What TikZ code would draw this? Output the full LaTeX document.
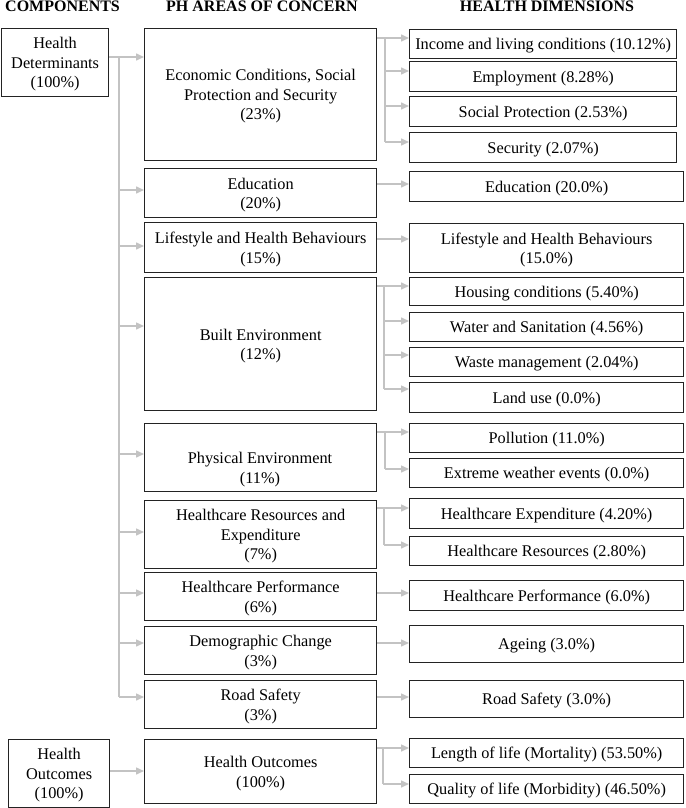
\documentclass[tikz,border=0pt]{standalone}
\usepackage{fontspec}
\setmainfont{Liberation Serif}
\usetikzlibrary{arrows.meta}
\definecolor{cgray}{RGB}{195,195,195}
\definecolor{bdr}{RGB}{35,35,35}
\newcommand\bx[6]{\node[box, minimum width={(#4-#2)*1pt}, minimum height={(#5-#3)*1pt}] (#1) at (#2,#3) {#6};}
\newcommand\harr[3]{\coordinate (tmp) at (0,#3); \draw[arr] (tmp -| #1.east) -- (tmp -| #2.west);}
\begin{document}
\begin{tikzpicture}[x=1pt,y=-1pt,
  box/.style={draw=bdr, line width=1.3pt, align=center, inner sep=1pt, anchor=north west, text depth=0pt, font=\fontsize{16.3}{19.5}\selectfont},
  conn/.style={draw=cgray, line width=1.5pt},
  arr/.style={conn, -{Triangle[length=8pt,width=7pt]}},
  hdr/.style={font=\fontsize{16}{19}\selectfont\bfseries, inner sep=0pt}]
\useasboundingbox (0,0) rectangle (685,808);

% headers
\node[hdr, anchor=west] (h1) at (5,6.5) {COMPONENTS};
\node[hdr] (h2) at (262,6.5) {PH AREAS OF CONCERN};
\node[hdr] (h3) at (547,6.5) {HEALTH DIMENSIONS};

% components
\bx{hd}{1}{28}{108}{96}{Health\\Determinants\\(100\%)}
\bx{ho1}{8}{739}{109}{807}{Health\\Outcomes\\(100\%)}

% PH areas
\bx{econ}{144}{28}{376}{160}{Economic Conditions, Social\\Protection and Security\\(23\%)}
\bx{edu}{144}{168}{376}{217}{Education\\(20\%)}
\bx{life}{144}{222}{376}{272}{Lifestyle and Health Behaviours\\(15\%)}
\bx{built}{144}{277}{376}{410}{Built Environment\\(12\%)}
\bx{phys}{144}{423}{376}{491}{}
\node[align=center, inner sep=0pt, text depth=0pt, font=\fontsize{16.3}{19.5}\selectfont] (physt) at (260,468) {Physical Environment\\(11\%)};
\bx{hcre}{144}{500}{376}{568}{Healthcare Resources and\\Expenditure\\(7\%)}
\bx{perf}{144}{572}{376}{620}{Healthcare Performance\\(6\%)}
\bx{demo}{144}{626}{376}{674}{Demographic Change\\(3\%)}
\bx{road}{144}{680}{376}{728}{Road Safety\\(3\%)}
\bx{ho2}{144}{739}{376}{803}{Health Outcomes\\(100\%)}

% health dimensions
\bx{inc}{409}{29}{676}{58}{Income and living conditions (10.12\%)}
\bx{emp}{409}{61}{676}{91}{Employment (8.28\%)}
\bx{soc}{409}{96}{676}{126}{Social Protection (2.53\%)}
\bx{sec}{409}{132}{676}{162}{Security (2.07\%)}
\bx{edu2}{409}{171}{683}{201}{Education (20.0\%)}
\bx{life2}{409}{223}{683}{272}{Lifestyle and Health Behaviours\\(15.0\%)}
\bx{hous}{409}{277}{683}{305}{Housing conditions (5.40\%)}
\bx{water}{409}{312}{683}{341}{Water and Sanitation (4.56\%)}
\bx{waste}{409}{347}{683}{376}{Waste management (2.04\%)}
\bx{land}{409}{382}{683}{412}{Land use (0.0\%)}
\bx{poll}{409}{423}{683}{452}{Pollution (11.0\%)}
\bx{extr}{409}{458}{683}{487}{Extreme weather events (0.0\%)}
\bx{hexp}{409}{498}{683}{528}{Healthcare Expenditure (4.20\%)}
\bx{hres}{409}{536}{683}{565}{Healthcare Resources (2.80\%)}
\bx{perf2}{409}{580}{683}{610}{Healthcare Performance (6.0\%)}
\bx{age}{409}{625}{683}{662}{Ageing (3.0\%)}
\bx{road2}{409}{680}{683}{717}{Road Safety (3.0\%)}
\bx{len}{409}{738}{683}{767}{Length of life (Mortality) (53.50\%)}
\bx{qual}{409}{774}{683}{803}{Quality of life (Morbidity) (46.50\%)}

% left trunk
\coordinate (L0) at (119,57);
\coordinate (Lend) at (119,697);
\draw[conn] (L0) -- (Lend);
\draw[arr] (L0 -| hd.east) -- (L0 -| econ.west);
\foreach \yy/\nn in {190/edu,246/life,326/built,454/phys,532/hcre,593/perf,643/demo,697/road}{
  \coordinate (tmp) at (119,\yy);
  \draw[arr] (tmp) -- (tmp -| \nn.west);
}
\harr{ho1}{ho2}{771}

% economic branch
\coordinate (e0) at (385,38);
\draw[conn] (e0 -| econ.east) -- (e0) -- (385,142);
\foreach \yy/\nn in {38/inc,71/emp,106/soc,142/sec}{
  \coordinate (tmp) at (385,\yy);
  \draw[arr] (tmp) -- (tmp -| \nn.west);
}

% single links
\harr{edu}{edu2}{184}
\harr{life}{life2}{239}
\harr{perf}{perf2}{593}
\harr{demo}{age}{643}
\harr{road}{road2}{697}

% built branch
\coordinate (b0) at (384,286);
\draw[conn] (b0 -| built.east) -- (b0) -- (384,389);
\foreach \yy/\nn in {286/hous,321/water,355/waste,389/land}{
  \coordinate (tmp) at (384,\yy);
  \draw[arr] (tmp) -- (tmp -| \nn.west);
}

% physical branch
\coordinate (p0) at (385,432);
\draw[conn] (p0 -| phys.east) -- (p0) -- (385,469);
\foreach \yy/\nn in {432/poll,469/extr}{
  \coordinate (tmp) at (385,\yy);
  \draw[arr] (tmp) -- (tmp -| \nn.west);
}

% healthcare resources branch
\coordinate (r0) at (384,508);
\draw[conn] (r0 -| hcre.east) -- (r0) -- (384,545);
\foreach \yy/\nn in {508/hexp,545/hres}{
  \coordinate (tmp) at (384,\yy);
  \draw[arr] (tmp) -- (tmp -| \nn.west);
}

% outcomes branch
\coordinate (o0) at (383,748);
\draw[conn] (o0 -| ho2.east) -- (o0) -- (383,784);
\foreach \yy/\nn in {748/len,784/qual}{
  \coordinate (tmp) at (383,\yy);
  \draw[arr] (tmp) -- (tmp -| \nn.west);
}
\end{tikzpicture}
\end{document}
